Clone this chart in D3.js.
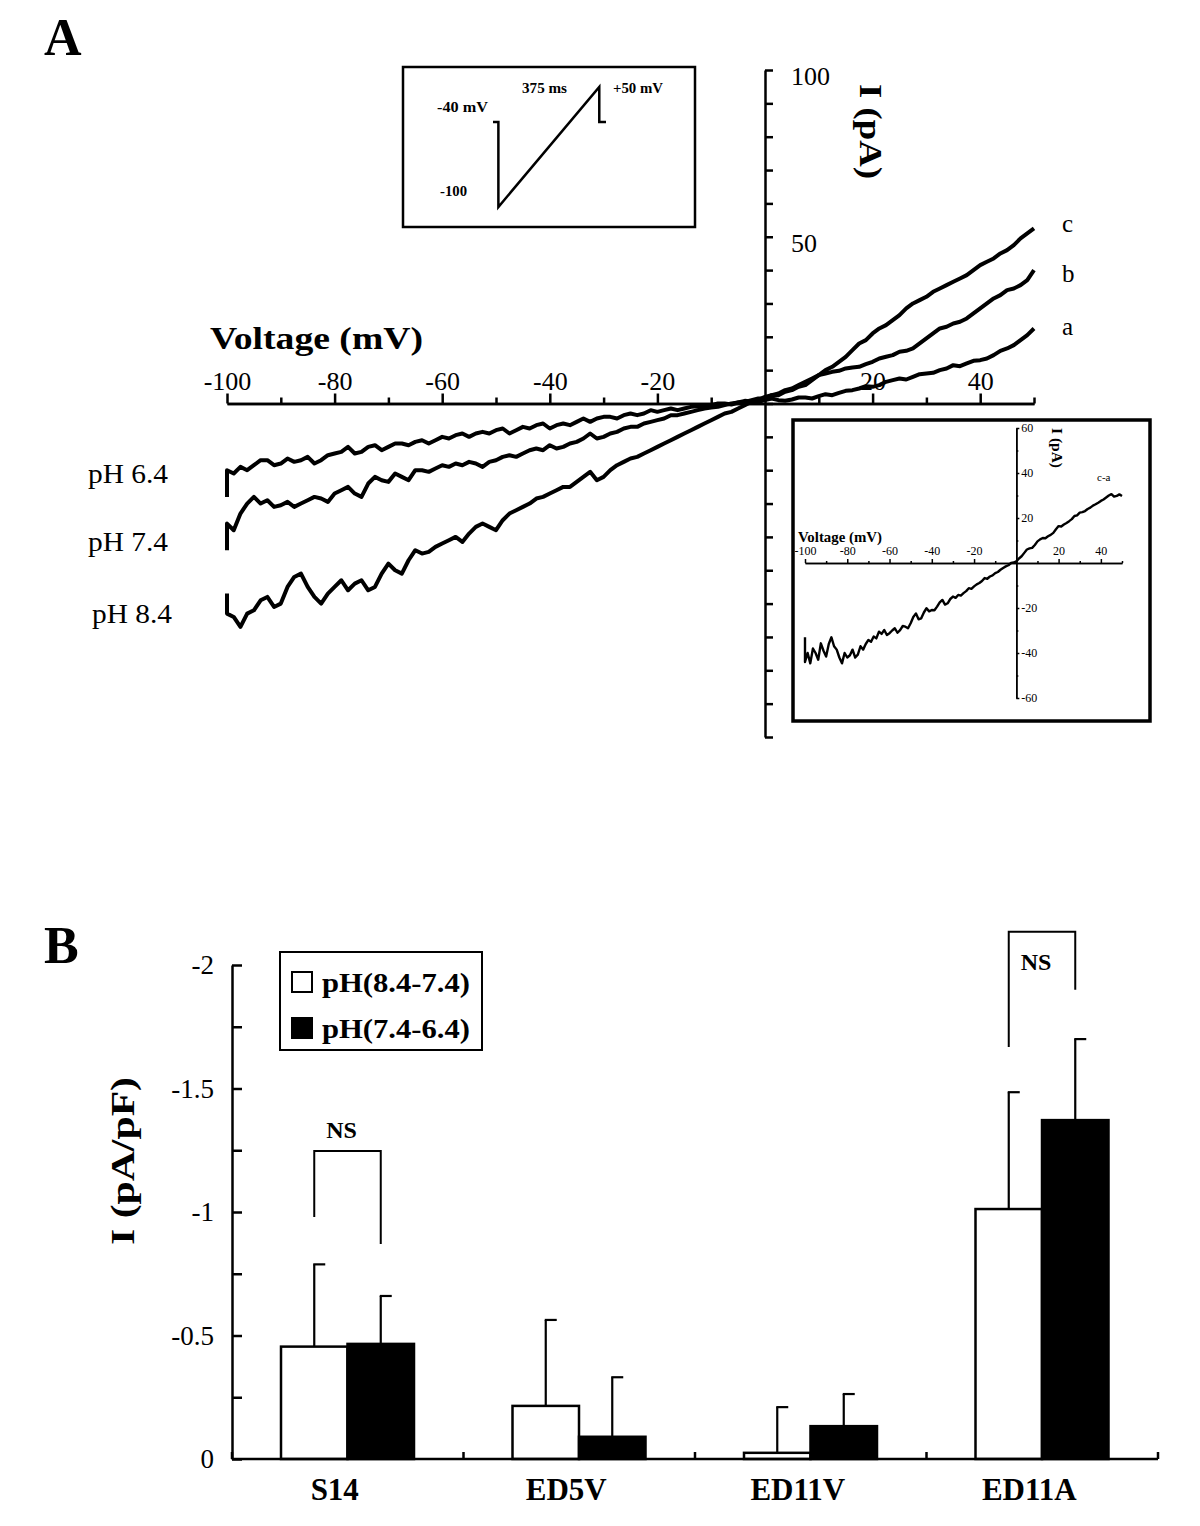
<!DOCTYPE html>
<html>
<head>
<meta charset="utf-8">
<script src="https://cdn.jsdelivr.net/npm/d3@7"></script>
<style>
body{margin:0;background:#fff}
svg{display:block;font-family:"Liberation Serif","Times New Roman",serif}
</style>
</head>
<body>
<svg id="fig" width="1200" height="1526"></svg>
<script>
// ramp sweep voltages (mV), first point repeated for the start-up jump
const sweepMv = [-100,-100,
  -98.75,-97.5,-96.25,-95,-93.75,-92.5,-91.25,-90,
  -88.75,-87.5,-86.25,-85,-83.75,-82.5,-81.25,-80,
  -78.75,-77.5,-76.25,-75,-73.75,-72.5,-71.25,-70,
  -68.75,-67.5,-66.25,-65,-63.75,-62.5,-61.25,-60,
  -58.75,-57.5,-56.25,-55,-53.75,-52.5,-51.25,-50,
  -48.75,-47.5,-46.25,-45,-43.75,-42.5,-41.25,-40,
  -38.75,-37.5,-36.25,-35,-33.75,-32.5,-31.25,-30,
  -28.75,-27.5,-26.25,-25,-23.75,-22.5,-21.25,-20,
  -18.75,-17.5,-16.25,-15,-13.75,-12.5,-11.25,-10,
  -8.75,-7.5,-6.25,-5,-3.75,-2.5,-1.25,0,
  1.25,2.5,3.75,5,6.25,7.5,8.75,10,
  11.25,12.5,13.75,15,16.25,17.5,18.75,20,
  21.25,22.5,23.75,25,26.25,27.5,28.75,30,
  31.25,32.5,33.75,35,36.25,37.5,38.75,40,
  41.25,42.5,43.75,45,46.25,47.5,48.75,50];
// currents (pA)
const tracePH64 = [-28,-20,
  -21,-19,-20,-18.5,-17,-17,-18.5,-18,
  -16.5,-17.5,-17,-16,-18,-17,-15.5,-15,
  -14.5,-13,-15,-14.5,-13,-12.5,-14,-13,
  -12,-12,-12.5,-11.5,-11,-12,-11,-10,
  -10.5,-9.5,-9,-10,-9,-8.5,-9,-8,
  -7.5,-9,-8,-7,-7.5,-6.5,-6,-7.5,
  -6.5,-6,-6.5,-5.5,-4.5,-5.5,-4.5,-4,
  -4,-4.5,-3.5,-3,-3.5,-3,-2,-2.5,
  -2,-1.5,-2,-1.5,-1,-0.8,-1,-0.5,
  0,0,-0.3,0.3,0.8,0.6,0.5,1,
  1.5,1,0.8,1.2,1.8,1.8,1.5,2.2,
  2.8,2.5,3.2,3.8,4,4.5,5.2,5,
  5.5,6.5,7,7.5,7.2,8,8.8,9,
  9.2,10,10.5,11.5,11.2,12,12.8,13,
  13.5,14.5,15.8,16.5,17.5,19,20.5,22.5];
const tracePH74 = [-44,-36,
  -38,-33,-30,-28,-30,-29,-31,-30.5,
  -29.5,-31,-30,-29,-28,-28.5,-29.5,-27,
  -26,-25,-27,-28,-24,-22,-23,-23.5,
  -21,-22,-23,-20,-20,-20.5,-19.5,-18.5,
  -19,-18,-18.5,-17.5,-18,-19,-17.5,-17,
  -16,-15.5,-16,-15,-14,-13.5,-14,-12.5,
  -13.5,-13,-12,-11.5,-10.5,-9,-10.5,-10,
  -9,-8.5,-7.5,-7,-7,-6,-5.5,-5,
  -4.5,-3.5,-3.5,-3,-2.5,-2,-1.5,-1.2,
  -1,-0.5,0,0.3,0.5,1,1.5,1.5,
  2.5,2.5,3.5,4,5,5.5,7,8.5,
  9,9.5,9.8,10.5,10.8,11,11.8,12.5,
  13.5,14,14.5,15.5,15.8,16.5,18,19.5,
  21,22.5,23,24,24.5,25.5,27,28.5,
  30,31.5,32.5,34,34.5,35.5,37,40];
const tracePH84 = [-57,-63,
  -64,-67,-63,-62,-59,-58,-61,-60,
  -55,-52,-51,-55,-58,-60,-57,-55,
  -53,-56,-54,-53,-56,-55,-51,-48,
  -50,-51,-47,-44,-45,-44.5,-43,-42,
  -41,-40,-41.5,-39,-37,-36,-37,-38,
  -35,-33,-32,-31,-30,-28.5,-28,-27,
  -26,-25,-25,-23.5,-22,-20.5,-23,-22,
  -20,-18.5,-17.5,-16.5,-16,-15,-14,-13,
  -12,-11,-10,-9,-8,-7,-6,-5,
  -4,-3,-2.5,-1.5,-0.5,0.5,1,2,
  2.5,3,4,4.5,5.5,6.5,7.5,8.5,
  10,11,12.5,14,16,18,19,21,
  22.5,23.5,25,26.5,28.5,30,31,32,
  33.5,34.5,35.5,36.5,37.5,38.5,40,41.5,
  42.5,43.5,45,46,47.5,49.5,51,52.5];
// difference trace c-a for the inset
const traceDiffCA = [-33,-44,
  -40,-44.6,-38,-40,-43,-35.7,-39,-41.6,
  -36,-33,-37,-38.5,-42,-44.6,-40,-42,
  -41,-38.5,-42,-40.7,-37,-38.5,-36,-34.2,
  -35,-32.7,-33.5,-30.5,-31.5,-29.8,-32,-31.2,
  -30,-29,-31,-29.8,-28,-28.3,-29,-26.8,
  -24,-22.4,-25,-24.6,-22,-20.1,-21.5,-20.9,
  -21,-19.4,-17.5,-16.4,-18.5,-17.9,-16,-14.9,
  -15.5,-14.2,-14.5,-13.4,-12.5,-11.2,-11.5,-10.4,
  -9.5,-8.9,-8,-6.7,-7,-6,-5.5,-4.5,
  -4,-3,-2.2,-1.5,-1,0,0.2,0.7,
  2,3,4.5,6,6.5,6.7,8,9.6,
  10.5,11.1,11,11.9,12.5,13.4,15,16.4,
  16.2,17.1,17.8,18.6,19.5,20.9,21.2,22.4,
  22.6,23.1,24,24.6,25.5,26.1,26.8,27.6,
  28.2,29.1,30,30.6,29.5,29.8,30.5,29.8];
const traceNames = ['pH 6.4','pH 7.4','pH 8.4'];
const traceTags = ['a','b','c'];
const majorMv = [-100,-80,-60,-40,-20,20,40];
const minorMv = [-90,-70,-50,-30,-10,10,30,50];
const currentTicks = [-100,-90,-80,-70,-60,-50,-40,-30,-20,-10,0,10,20,30,40,50,60,70,80,90,100];
const currentLabels = [100,50];
const insetMvLabels = [-100,-80,-60,-40,-20,20,40];
const insetMvMinor = [-90,-70,-50,-30,-10,10,30,50];
const insetPaTicks = [-60,-40,-20,20,40,60];
const insetPaMinor = [-50,-30,-10,10,30,50];

// voltage protocol sketch
const protocolMs = [0,20,20,395,395,420];
const protocolMv = [-40,-40,-100,50,-40,-40];

// panel B
const mutants = ['S14','ED5V','ED11V','ED11A'];
const seriesNames = ['pH(8.4-7.4)','pH(7.4-6.4)'];
const alkaliMean = [-0.455,-0.215,-0.025,-1.012];
const alkaliSem = [0.333,0.348,0.185,0.473];
const acidMean = [-0.466,-0.09,-0.133,-1.372];
const acidSem = [0.194,0.241,0.13,0.328];
const nsMutants = ['S14','ED11A'];
const nsLeft = [-0.98,-1.668];
const nsRight = [-0.87,-1.90];
const nsTop = [-1.247,-2.135];
const nsTextAt = [-1.30,-1.98];
const densityTicks = [0,-0.25,-0.5,-0.75,-1,-1.25,-1.5,-1.75,-2];

const svg = d3.select('#fig');
const ink = '#000';

function styleAxis(g, size, weight){
  g.attr('font-family', null).attr('font-size', null);
  g.selectAll('path,line').attr('stroke', ink).attr('stroke-width', 2.5);
  g.selectAll('text').attr('fill', ink).style('font-size', size + 'px').style('font-weight', weight || 'normal');
}
function pairs(ys){
  return ys.slice(0, sweepMv.length).map((y,i)=>[sweepMv[i], y]);
}

// ---------- panel A ----------
const xA = d3.scaleLinear().domain([-100,50]).range([227,1034]);
const yA = d3.scaleLinear().domain([-100,100]).range([737,70]);
const gA = svg.append('g');

gA.append('text').text('A').attr('x',44).attr('y',55)
  .style('font-size','52px').style('font-weight','bold');

let ax = gA.append('g').attr('transform','translate(0,'+yA(0)+')')
  .call(d3.axisTop(xA).tickValues(minorMv).tickSize(6).tickSizeOuter(0).tickFormat(''));
styleAxis(ax, 26);
ax = gA.append('g').attr('transform','translate(0,'+yA(0)+')')
  .call(d3.axisTop(xA).tickValues(majorMv).tickSize(10).tickSizeOuter(0).tickPadding(4).tickFormat(d=>String(d)));
styleAxis(ax, 26);

ax = gA.append('g').attr('transform','translate('+xA(0)+',0)')
  .call(d3.axisRight(yA).tickValues(currentTicks).tickSize(8).tickSizeOuter(0).tickPadding(18)
    .tickFormat(d=>currentLabels.includes(d) ? String(d) : ''));
styleAxis(ax, 26);
ax.selectAll('text').attr('dy','0.55em');

gA.append('text').text('Voltage (mV)').attr('x',210).attr('y',349)
  .attr('textLength',213).attr('lengthAdjust','spacingAndGlyphs')
  .style('font-size','31px').style('font-weight','bold');
gA.append('text').text('I (pA)').attr('transform','translate(860,84) rotate(90)')
  .attr('textLength',95).attr('lengthAdjust','spacingAndGlyphs')
  .style('font-size','32px').style('font-weight','bold');

const lineA = d3.line().x(d=>xA(d[0])).y(d=>yA(d[1]));
const traces = [tracePH64, tracePH74, tracePH84];
gA.selectAll('path.trace').data(traces).join('path').attr('class','trace')
  .attr('d', d=>lineA(pairs(d))).attr('fill','none').attr('stroke',ink)
  .attr('stroke-width',4).attr('stroke-linejoin','round');

// tags a/b/c at the right end, pH names at the left end
const tagY = [335,282,232];
gA.selectAll('text.tag').data(traceTags).join('text').attr('class','tag')
  .text(d=>d).attr('x',1062).attr('y',(d,i)=>tagY[i]).style('font-size','25px');
const nameY = [483,551,623];
const nameX = [88,88,92];
gA.selectAll('text.ph').data(traceNames).join('text').attr('class','ph')
  .text(d=>d).attr('x',(d,i)=>nameX[i]).attr('y',(d,i)=>nameY[i])
  .attr('textLength',80).attr('lengthAdjust','spacingAndGlyphs').style('font-size','27px');

// protocol inset
gA.append('rect').attr('x',403).attr('y',67).attr('width',292).attr('height',160)
  .attr('fill','#fff').attr('stroke',ink).attr('stroke-width',2.5);
const tP = d3.scaleLinear().domain([0,420]).range([493,606]);
const vP = d3.scaleLinear().domain([-100,-40,50]).range([207,122,87]);
gA.append('path').attr('d', d3.line().x(d=>tP(d)).y((d,i)=>vP(protocolMv[i]))(protocolMs))
  .attr('fill','none').attr('stroke',ink).attr('stroke-width',2.5);
const protoText = [['-40 mV',437,112,51],['375 ms',522,93,45],['+50 mV',613,93,50],['-100',440,196,27]];
gA.selectAll('text.proto').data(protoText).join('text').attr('class','proto')
  .text(d=>d[0]).attr('x',d=>d[1]).attr('y',d=>d[2])
  .attr('textLength',d=>d[3]).attr('lengthAdjust','spacingAndGlyphs')
  .style('font-size','15px').style('font-weight','bold');

// difference inset
gA.append('rect').attr('x',793).attr('y',420).attr('width',357).attr('height',301)
  .attr('fill','#fff').attr('stroke',ink).attr('stroke-width',3.5);
const xI = d3.scaleLinear().domain([-100,50]).range([805,1122]);
const yI = d3.scaleLinear().domain([-60,60]).range([698,428]);
ax = gA.append('g').attr('transform','translate(0,'+yI(0)+')')
  .call(d3.axisTop(xI).tickValues(insetMvMinor).tickSize(2).tickSizeOuter(0).tickFormat(''));
styleAxis(ax, 12); ax.selectAll('path,line').attr('stroke-width',1.5);
ax = gA.append('g').attr('transform','translate(0,'+yI(0)+')')
  .call(d3.axisTop(xI).tickValues(insetMvLabels).tickSize(4).tickSizeOuter(0).tickPadding(4).tickFormat(d=>String(d)));
styleAxis(ax, 12); ax.selectAll('path,line').attr('stroke-width',1.5);
ax = gA.append('g').attr('transform','translate('+xI(0)+',0)')
  .call(d3.axisRight(yI).tickValues(insetPaMinor).tickSize(2).tickSizeOuter(0).tickFormat(''));
styleAxis(ax, 12); ax.selectAll('path,line').attr('stroke-width',1.5);
ax = gA.append('g').attr('transform','translate('+xI(0)+',0)')
  .call(d3.axisRight(yI).tickValues(insetPaTicks).tickSize(3).tickSizeOuter(0).tickPadding(2).tickFormat(d=>String(d)));
styleAxis(ax, 12); ax.selectAll('path,line').attr('stroke-width',1.5);
gA.append('text').text('Voltage (mV)').attr('x',798).attr('y',542)
  .attr('textLength',84).attr('lengthAdjust','spacingAndGlyphs')
  .style('font-size','15px').style('font-weight','bold');
gA.append('text').text('I (pA)').attr('transform','translate(1052,428) rotate(90)')
  .attr('textLength',40).attr('lengthAdjust','spacingAndGlyphs')
  .style('font-size','14px').style('font-weight','bold');
gA.append('text').text('c-a').attr('x',1097).attr('y',481).style('font-size','11px');
gA.append('path').attr('d', d3.line().x(d=>xI(d[0])).y(d=>yI(d[1]))(pairs(traceDiffCA)))
  .attr('fill','none').attr('stroke',ink).attr('stroke-width',2.4).attr('stroke-linejoin','round');

// ---------- panel B ----------
const gB = svg.append('g');
gB.append('text').text('B').attr('x',44).attr('y',963)
  .style('font-size','52px').style('font-weight','bold');

const yB = d3.scaleLinear().domain([0,-2]).range([1459,965]);
const xB = d3.scaleBand().domain(mutants).range([232,1158]);
const xS = d3.scaleBand().domain([0,1]).range([49,182]);

ax = gB.append('g').attr('transform','translate('+xB.range()[0]+',0)')
  .call(d3.axisLeft(yB).tickValues(densityTicks).tickSizeInner(-10).tickSizeOuter(0).tickPadding(18)
    .tickFormat(d=> d*2===Math.round(d*2) ? String(d) : ''));
styleAxis(ax, 27);
gB.append('text').text('I (pA/pF)').attr('transform','translate(134,1245) rotate(-90)')
  .attr('textLength',168).attr('lengthAdjust','spacingAndGlyphs')
  .style('font-size','34px').style('font-weight','bold');

const barRows = [];
mutants.forEach((m,i)=>{
  barRows.push({m, s:0, v:alkaliMean[i], e:alkaliSem[i]});
  barRows.push({m, s:1, v:acidMean[i], e:acidSem[i]});
});
const cx = d=> xB(d.m) + xS(d.s) + xS.bandwidth()/2;

// error bars (upward only)
gB.selectAll('line.err').data(barRows).join('line').attr('class','err')
  .attr('x1',cx).attr('x2',cx).attr('y1',d=>yB(d.v)).attr('y2',d=>yB(d.v-d.e))
  .attr('stroke',ink).attr('stroke-width',2.2);
gB.selectAll('line.cap').data(barRows).join('line').attr('class','cap')
  .attr('x1',d=>cx(d)-1).attr('x2',d=>cx(d)+11).attr('y1',d=>yB(d.v-d.e)).attr('y2',d=>yB(d.v-d.e))
  .attr('stroke',ink).attr('stroke-width',2.2);
gB.selectAll('rect.bar').data(barRows).join('rect').attr('class','bar')
  .attr('x',d=>xB(d.m)+xS(d.s)).attr('width',xS.bandwidth())
  .attr('y',d=>yB(d.v)).attr('height',d=>yB(0)-yB(d.v))
  .attr('fill',d=>d.s ? ink : '#fff').attr('stroke',ink).attr('stroke-width',2.5);

// x axis with boundary ticks
gB.append('line').attr('x1',xB.range()[0]).attr('x2',xB.range()[1]).attr('y1',yB(0)).attr('y2',yB(0))
  .attr('stroke',ink).attr('stroke-width',2.5);
const bounds = mutants.map(m=>xB(m)).concat([xB.range()[1]]);
gB.selectAll('line.bt').data(bounds).join('line').attr('class','bt')
  .attr('x1',d=>d).attr('x2',d=>d).attr('y1',yB(0)).attr('y2',yB(0)-7)
  .attr('stroke',ink).attr('stroke-width',2.5);
gB.selectAll('text.cat').data(mutants).join('text').attr('class','cat')
  .text(d=>d).attr('x',d=>xB(d)+xB.bandwidth()/2-13).attr('y',1500)
  .attr('text-anchor','middle').style('font-size','31px').style('font-weight','bold');

// NS brackets
nsMutants.forEach((m,i)=>{
  const xl = xB(m)+xS(0)+xS.bandwidth()/2, xr = xB(m)+xS(1)+xS.bandwidth()/2;
  gB.append('path').attr('d','M'+xl+','+yB(nsLeft[i])+'V'+yB(nsTop[i])+'H'+xr+'V'+yB(nsRight[i]))
    .attr('fill','none').attr('stroke',ink).attr('stroke-width',2);
  gB.append('text').text('NS').attr('x',(xl+xr)/2-6).attr('y',yB(nsTextAt[i]))
    .attr('text-anchor','middle').style('font-size','24px').style('font-weight','bold');
});

// legend
gB.append('rect').attr('x',280).attr('y',952).attr('width',202).attr('height',98)
  .attr('fill','#fff').attr('stroke',ink).attr('stroke-width',2);
const leg = gB.selectAll('g.leg').data(seriesNames).join('g').attr('class','leg')
  .attr('transform',(d,i)=>'translate(292,'+(972+i*46)+')');
leg.append('rect').attr('width',20).attr('height',20)
  .attr('fill',(d,i)=>i ? ink : '#fff').attr('stroke',ink).attr('stroke-width',2);
leg.append('text').text(d=>d).attr('x',30).attr('y',20)
  .attr('textLength',148).attr('lengthAdjust','spacingAndGlyphs')
  .style('font-size','27px').style('font-weight','bold');
</script>
</body>
</html>
